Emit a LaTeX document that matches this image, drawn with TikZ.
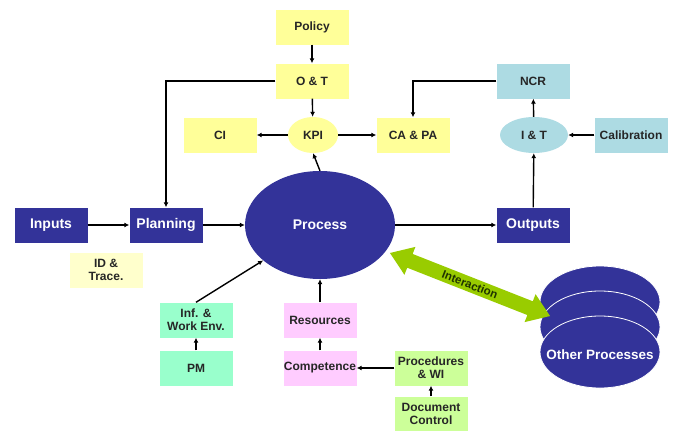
\documentclass[tikz,border=0pt]{standalone}
\usepackage{fontspec}
\setmainfont{Liberation Sans}
\usetikzlibrary{arrows.meta,shapes.geometric,shapes.arrows}
\definecolor{dblue}{HTML}{333399}
\definecolor{yel}{HTML}{FFFF99}
\definecolor{pyel}{HTML}{FFFFCC}
\definecolor{lblue}{HTML}{ADDBE3}
\definecolor{mint}{HTML}{99FFCC}
\definecolor{pink}{HTML}{FFCCFF}
\definecolor{lgreen}{HTML}{CCFF99}
\definecolor{agreen}{HTML}{99CC00}
\definecolor{tgreen}{HTML}{1F3300}
\tikzset{
  base/.style={align=center, inner sep=0pt, minimum width=73pt, minimum height=35pt,
    font=\bfseries\fontsize{12}{13}\selectfont, text=black!85},
  ybox/.style={base, rectangle, fill=yel},
  pybox/.style={base, rectangle, fill=pyel},
  bbox/.style={base, rectangle, fill=lblue},
  mbox/.style={base, rectangle, fill=mint},
  pbox/.style={base, rectangle, fill=pink},
  gbox/.style={base, rectangle, fill=lgreen},
  dbox/.style={base, rectangle, fill=dblue, text=white, font=\bfseries\fontsize{14}{15}\selectfont},
  ell/.style={base, ellipse, minimum width=50pt, minimum height=36pt},
  opell/.style={ellipse, fill=dblue, draw=white, line width=0.8pt, minimum width=120pt, minimum height=72pt, inner sep=0pt},
  arr/.style={draw=black, line width=1.4pt, -{Latex[length=5pt,width=5pt]}},
}
\begin{document}
\begin{tikzpicture}[x=1pt,y=-1pt]
\useasboundingbox (0,0) rectangle (675,431);
% top
\node[ybox] (pol) at (312,27) {Policy};
\node[ybox] (ot) at (312,81) {O \& T};
\node[ell, fill=yel] (kpi) at (313,135) {KPI};
\node[ybox] (ci) at (220,135) {CI};
\node[ybox] (capa) at (413,135) {CA \& PA};
\node[bbox] (ncr) at (533,81) {NCR};
\node[ell, fill=lblue, minimum width=68pt] (it) at (534,135) {I \& T};
\node[bbox] (cal) at (631,135) {Calibration};
% middle
\node[dbox] (in) at (51,225) {Inputs};
\node[dbox] (plan) at (166,225) {Planning};
\node[pybox] (id) at (106,270) {ID \&\\Trace.};
\node[ellipse, fill=dblue, minimum width=150pt, minimum height=108pt, inner sep=0pt,
  text=white, font=\bfseries\fontsize{14}{15}\selectfont] (proc) at (320,225) {Process};
\node[dbox] (out) at (533,225) {Outputs};
% bottom
\node[mbox] (inf) at (196,320) {Inf. \&\\Work Env.};
\node[mbox] (pm) at (196,368) {PM};
\node[pbox] (res) at (320,320) {Resources};
\node[pbox] (comp) at (320,368) {Competence};
\node[gbox] (procw) at (431,368) {Procedures\\\& WI};
\node[gbox] (doc) at (431,414) {Document\\Control};
% other processes
\node[opell] (op1) at (600,302) {};
\node[opell] (op2) at (600,327) {};
\node[opell] (op3) at (600,352) {};
\node[text=white, font=\bfseries\fontsize{13.5}{15}\selectfont, inner sep=0pt] (opl) at (600,355) {Other Processes};
% interaction arrow
\node[double arrow, fill=agreen, minimum height=172pt, minimum width=30pt, inner sep=2.5pt,
  double arrow tip angle=70, rotate=-21.5, text=tgreen,
  font=\bfseries\fontsize{11.5}{12}\selectfont] (inter) at (470,284.5) {Interaction};
% connectors
\draw[arr] (pol) -- (ot);
\draw[arr] (ot) -- (kpi);
\draw[arr] (ot.west) -| (plan.north);
\draw[arr] (proc.north) -- (kpi.south);
\draw[arr] (kpi) -- (ci);
\draw[arr] (kpi) -- (capa);
\draw[arr] (ncr.west) -| (capa.north);
\draw[arr] (cal) -- (it);
\draw[arr] (it) -- (ncr);
\draw[arr] (out) -- (it);
\draw[arr] (in) -- (plan);
\draw[arr] (plan.east) -- (proc.west);
\draw[arr] (proc.east) -- (out.west);
\draw[arr] (inf.north) -- (proc);
\draw[arr] (res.north) -- (proc.south);
\draw[arr] (comp) -- (res);
\draw[arr] (pm) -- (inf);
\draw[arr] (procw) -- (comp);
\draw[arr] (doc) -- (procw);
\end{tikzpicture}
\end{document}
